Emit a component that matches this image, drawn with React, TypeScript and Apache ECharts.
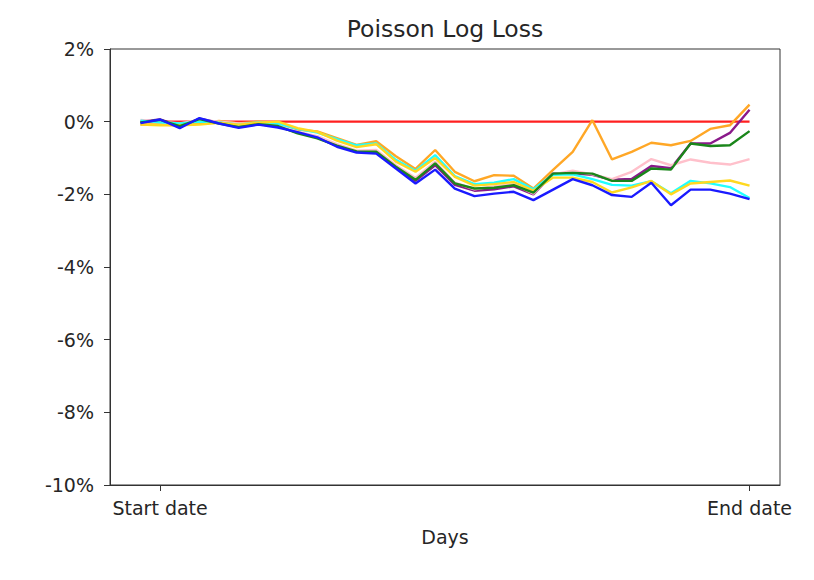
import React, { useEffect, useRef } from "react";
import * as echarts from "echarts";

const days = [0, 1, 2, 3, 4, 5, 6, 7, 8, 9, 10, 11, 12, 13, 14, 15, 16, 17, 18, 19, 20, 21, 22, 23, 24, 25, 26, 27, 28, 29, 30, 31];
const tickDays = [1, 31];
const tickNames = ["Start date", "End date"];
const yTicks = [-10, -8, -6, -4, -2, 0, 2];

const baseline = [0, 0, 0, 0, 0, 0, 0, 0, 0, 0, 0, 0, 0, 0, 0, 0, 0, 0, 0, 0, 0, 0, 0, 0, 0, 0, 0, 0, 0, 0, 0, 0];
const orangeVals = [-0.08, -0.08, -0.1, -0.05, 0.02, -0.05, 0.0, -0.03, -0.22, -0.27, -0.45, -0.64, -0.54, -0.95, -1.3, -0.78, -1.38, -1.64, -1.47, -1.49, -1.84, -1.33, -0.83, 0.04, -1.04, -0.83, -0.58, -0.65, -0.53, -0.2, -0.1, 0.47];
const purpleVals = [0.0, 0.06, -0.12, 0.08, -0.03, -0.13, -0.06, -0.13, -0.3, -0.44, -0.66, -0.83, -0.84, -1.26, -1.63, -1.2, -1.74, -1.9, -1.86, -1.78, -2.0, -1.43, -1.42, -1.46, -1.6, -1.58, -1.22, -1.28, -0.6, -0.6, -0.31, 0.33];
const pinkVals = [0.05, 0.0, -0.05, 0.05, 0.0, -0.05, -0.05, -0.1, -0.28, -0.4, -0.62, -0.8, -0.78, -1.2, -1.55, -1.1, -1.68, -1.86, -1.78, -1.72, -1.98, -1.45, -1.35, -1.45, -1.58, -1.38, -1.03, -1.2, -1.04, -1.13, -1.18, -1.03];
const cyanVals = [0.03, -0.02, -0.05, 0.0, -0.02, -0.08, -0.02, -0.05, -0.2, -0.3, -0.48, -0.65, -0.6, -1.05, -1.35, -0.92, -1.5, -1.72, -1.68, -1.58, -1.86, -1.46, -1.45, -1.58, -1.74, -1.76, -1.64, -1.97, -1.63, -1.7, -1.8, -2.1];
const goldVals = [-0.08, -0.1, -0.1, -0.08, -0.03, -0.08, -0.03, 0.0, -0.18, -0.28, -0.52, -0.7, -0.62, -1.1, -1.38, -1.0, -1.52, -1.76, -1.72, -1.66, -1.9, -1.54, -1.54, -1.66, -1.95, -1.81, -1.63, -2.0, -1.7, -1.66, -1.62, -1.76];
const greenVals = [-0.02, 0.05, -0.12, 0.07, -0.05, -0.15, -0.07, -0.12, -0.32, -0.46, -0.66, -0.82, -0.83, -1.24, -1.6, -1.15, -1.7, -1.84, -1.82, -1.75, -1.95, -1.43, -1.41, -1.43, -1.63, -1.63, -1.29, -1.32, -0.6, -0.67, -0.65, -0.26];
const blueVals = [-0.04, 0.06, -0.18, 0.1, -0.05, -0.17, -0.08, -0.16, -0.29, -0.43, -0.69, -0.85, -0.88, -1.29, -1.7, -1.32, -1.84, -2.05, -1.98, -1.93, -2.16, -1.87, -1.58, -1.75, -2.02, -2.07, -1.68, -2.3, -1.87, -1.87, -1.98, -2.13];

const seriesDefs = [
  { name: "baseline", color: "#ff2020", values: baseline },
  { name: "orange", color: "#ffa726", values: orangeVals },
  { name: "purple", color: "#8a1a8a", values: purpleVals },
  { name: "pink", color: "#ffc0cb", values: pinkVals },
  { name: "cyan", color: "#22ffff", values: cyanVals },
  { name: "gold", color: "#ffd820", values: goldVals },
  { name: "green", color: "#1a861a", values: greenVals },
  { name: "blue", color: "#1a1aff", values: blueVals },
];

const FONT = "DejaVu Sans";
const TEXT = "#262626";
const AXIS = "#333333";

export default function App() {
  const ref = useRef<HTMLDivElement>(null);
  useEffect(() => {
    if (!ref.current) return;
    const chart = echarts.init(ref.current, null, { renderer: "svg" });
    chart.setOption({
      animation: false,
      backgroundColor: "#ffffff",
      grid: {
        left: 110,
        right: 34,
        top: 49,
        bottom: 95,
        show: true,
        borderColor: AXIS,
        borderWidth: 1,
        backgroundColor: "transparent",
      },
      graphic: [
        {
          type: "text",
          x: 445,
          y: 29,
          style: {
            text: "Poisson Log Loss",
            fontFamily: FONT,
            fontSize: 23.5,
            fill: TEXT,
            textAlign: "center",
            textVerticalAlign: "middle",
          },
        },
      ],
      xAxis: {
        type: "value",
        min: -1.55,
        max: 32.55,
        name: "Days",
        nameLocation: "middle",
        nameGap: 42,
        nameTextStyle: { fontFamily: FONT, fontSize: 19, color: TEXT },
        axisLine: { show: true, onZero: false, lineStyle: { color: AXIS, width: 1 } },
        axisTick: { show: true, customValues: tickDays, length: 6, lineStyle: { color: AXIS } },
        axisLabel: {
          show: true,
          customValues: tickDays,
          margin: 13,
          fontFamily: FONT,
          fontSize: 19,
          color: TEXT,
          formatter: (v: number) => tickNames[tickDays.indexOf(v)] ?? "",
        },
        splitLine: { show: false },
      },
      yAxis: {
        type: "value",
        min: yTicks[0],
        max: yTicks[yTicks.length - 1],
        interval: 2,
        axisLine: { show: true, onZero: false, lineStyle: { color: AXIS, width: 1 } },
        axisTick: { show: true, length: 6, lineStyle: { color: AXIS } },
        axisLabel: {
          margin: 16,
          fontFamily: FONT,
          fontSize: 19,
          color: TEXT,
          formatter: (v: number) => `${v}%`,
        },
        splitLine: { show: false },
      },
      series: seriesDefs.map((s) => ({
        name: s.name,
        type: "line",
        data: days.map((d, i) => [d, s.values[i]]),
        symbol: "none",
        lineStyle: { color: s.color, width: 2.4 },
        itemStyle: { color: s.color },
        silent: true,
      })),
    });
    return () => chart.dispose();
  }, []);
  return (
    <div
      ref={ref}
      style={{ position: "fixed", left: 0, top: 0, width: 814, height: 580 }}
    />
  );
}
